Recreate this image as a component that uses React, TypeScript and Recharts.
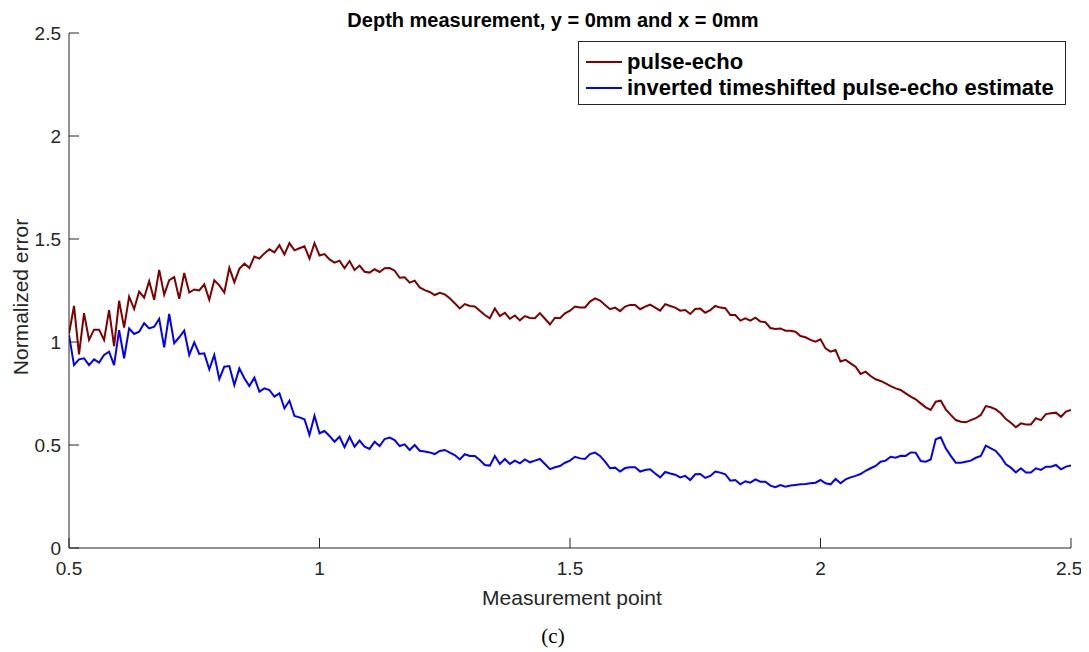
import { LineChart, Line, XAxis, YAxis } from 'recharts'

// measurement points run from 0.5 to 2.5 in steps of 0.01
const X_START = 0.5
const X_STEP = 0.01

const X_TICKS = [0.5, 1, 1.5, 2, 2.5]
const Y_TICKS = [0, 0.5, 1, 1.5, 2, 2.5]

const PULSE_ECHO = [
  1.04, 1.175, 0.94, 1.14, 1.01, 1.06, 1.06, 1.01, 1.155, 0.98,
  1.2, 1.07, 1.22, 1.16, 1.245, 1.215, 1.295, 1.205, 1.35, 1.23,
  1.3, 1.315, 1.21, 1.335, 1.24, 1.255, 1.25, 1.28, 1.205, 1.3,
  1.275, 1.24, 1.36, 1.29, 1.355, 1.38, 1.36, 1.415, 1.405, 1.43,
  1.45, 1.435, 1.47, 1.425, 1.48, 1.445, 1.455, 1.465, 1.405, 1.48,
  1.42, 1.427, 1.401, 1.385, 1.395, 1.358, 1.393, 1.35, 1.371, 1.341,
  1.337, 1.353, 1.34, 1.358, 1.359, 1.346, 1.312, 1.314, 1.288, 1.298,
  1.265, 1.252, 1.243, 1.228, 1.239, 1.231, 1.212, 1.188, 1.163, 1.184,
  1.175, 1.172, 1.152, 1.131, 1.115, 1.163, 1.126, 1.142, 1.113, 1.129,
  1.105, 1.126, 1.117, 1.115, 1.14, 1.113, 1.085, 1.118, 1.115, 1.139,
  1.152, 1.172, 1.168, 1.168, 1.196, 1.212, 1.201, 1.18, 1.159, 1.167,
  1.15, 1.172, 1.18, 1.18, 1.159, 1.172, 1.181, 1.167, 1.152, 1.184,
  1.175, 1.167, 1.152, 1.155, 1.136, 1.16, 1.162, 1.142, 1.155, 1.175,
  1.167, 1.164, 1.131, 1.131, 1.104, 1.115, 1.104, 1.118, 1.099, 1.096,
  1.068, 1.063, 1.066, 1.055, 1.055, 1.05, 1.029, 1.023, 1.01, 1.002,
  1.013, 0.969, 0.953, 0.961, 0.905, 0.913, 0.896, 0.88, 0.845, 0.856,
  0.835, 0.819, 0.811, 0.799, 0.786, 0.775, 0.767, 0.751, 0.735, 0.722,
  0.702, 0.683, 0.67, 0.71, 0.715, 0.673, 0.646, 0.621, 0.613, 0.61,
  0.621, 0.63, 0.646, 0.689, 0.683, 0.673, 0.654, 0.626, 0.608, 0.586,
  0.605, 0.6, 0.6, 0.63, 0.621, 0.65, 0.654, 0.657, 0.637, 0.662,
  0.67,
]

const INVERTED_ESTIMATE = [
  1.034, 0.888, 0.916, 0.921, 0.888, 0.916, 0.9, 0.937, 0.953, 0.888,
  1.058, 0.921, 1.066, 1.039, 1.05, 1.091, 1.066, 1.074, 1.112, 0.974,
  1.136, 0.994, 1.023, 1.055, 0.937, 0.998, 0.942, 0.945, 0.867, 0.937,
  0.82, 0.88, 0.883, 0.791, 0.872, 0.824, 0.786, 0.827, 0.759, 0.775,
  0.767, 0.735, 0.751, 0.678, 0.715, 0.641, 0.634, 0.625, 0.549, 0.642,
  0.557, 0.568, 0.544, 0.516, 0.54, 0.489, 0.54, 0.492, 0.521, 0.492,
  0.481, 0.516, 0.495, 0.529, 0.536, 0.524, 0.495, 0.503, 0.476, 0.5,
  0.472, 0.468, 0.464, 0.456, 0.471, 0.476, 0.463, 0.451, 0.43, 0.455,
  0.447, 0.447, 0.427, 0.403, 0.4, 0.447, 0.408, 0.432, 0.408, 0.424,
  0.411, 0.43, 0.416, 0.424, 0.432, 0.408, 0.383, 0.392, 0.398, 0.414,
  0.424, 0.443, 0.435, 0.432, 0.456, 0.463, 0.447, 0.419, 0.387, 0.39,
  0.371, 0.388, 0.392, 0.392, 0.371, 0.379, 0.382, 0.362, 0.343, 0.369,
  0.362, 0.356, 0.343, 0.35, 0.33, 0.358, 0.359, 0.34, 0.35, 0.371,
  0.366, 0.358, 0.327, 0.33, 0.309, 0.324, 0.317, 0.333, 0.322, 0.322,
  0.303, 0.295, 0.306, 0.298, 0.303, 0.306, 0.309, 0.311, 0.314, 0.317,
  0.33, 0.314, 0.309, 0.335, 0.314, 0.333, 0.343, 0.35, 0.359, 0.375,
  0.387, 0.398, 0.419, 0.424, 0.443, 0.438, 0.448, 0.447, 0.464, 0.463,
  0.422, 0.419, 0.43, 0.528, 0.537, 0.484, 0.447, 0.414, 0.414, 0.419,
  0.424, 0.438, 0.447, 0.497, 0.484, 0.471, 0.443, 0.406, 0.39, 0.367,
  0.387, 0.367, 0.366, 0.387, 0.379, 0.395, 0.395, 0.403, 0.382, 0.395,
  0.4,
]

const data = PULSE_ECHO.map((v, i) => ({
  x: Math.round((X_START + i * X_STEP) * 100) / 100,
  pulseEcho: v,
  inverted: INVERTED_ESTIMATE[i],
}))

const SERIES = [
  { key: 'pulseEcho', name: 'pulse-echo', color: '#800000' },
  { key: 'inverted', name: 'inverted timeshifted pulse-echo estimate', color: '#0000ff' },
]

const AXIS_COLOR = '#262626'
const FONT = '"Liberation Sans", Arial, Helvetica, sans-serif'

function LegendBox() {
  return (
    <div
      style={{
        position: 'absolute',
        left: 570,
        top: 33,
        width: 488,
        height: 64,
        border: '1px solid #262626',
        background: '#fff',
        boxSizing: 'border-box',
        paddingTop: 7,
        fontWeight: 'bold',
        fontSize: 22,
        color: '#000',
      }}
    >
      {SERIES.map((s) => (
        <div key={s.key} style={{ display: 'flex', alignItems: 'center', height: 26 }}>
          <div style={{ width: 36, height: 2, background: s.color, marginLeft: 7, marginRight: 5 }} />
          <span>{s.name}</span>
        </div>
      ))}
    </div>
  )
}

export default function App() {
  return (
    <div style={{ position: 'relative', width: 1073, height: 644, fontFamily: FONT, background: '#fff' }}>
      <div
        style={{
          position: 'absolute',
          left: 545,
          top: 0,
          transform: 'translateX(-50%)',
          whiteSpace: 'nowrap',
          fontWeight: 'bold',
          fontSize: 20,
          lineHeight: '24px',
          color: '#000',
        }}
      >
        Depth measurement, y = 0mm and x = 0mm
      </div>

      <LineChart width={1073} height={636} data={data} margin={{ top: 25, right: 10, left: 0, bottom: 56 }}>
        <XAxis
          dataKey="x"
          type="number"
          domain={[0.5, 2.5]}
          ticks={X_TICKS}
          allowDataOverflow
          height={40}
          stroke={AXIS_COLOR}
          tickSize={-10}
          tickMargin={24}
          tick={{ fill: AXIS_COLOR, fontSize: 19, fontFamily: FONT }}
        />
        <YAxis
          type="number"
          domain={[0, 2.5]}
          ticks={Y_TICKS}
          allowDataOverflow
          width={61}
          stroke={AXIS_COLOR}
          tickSize={-10}
          tickMargin={18}
          tick={{ fill: AXIS_COLOR, fontSize: 19, fontFamily: FONT }}
        />
        {SERIES.map((s) => (
          <Line
            key={s.key}
            type="linear"
            dataKey={s.key}
            name={s.name}
            stroke={s.color}
            strokeWidth={2}
            dot={false}
            isAnimationActive={false}
          />
        ))}
      </LineChart>

      <LegendBox />

      <div
        style={{
          position: 'absolute',
          left: 13,
          top: 289,
          transform: 'translate(-50%, -50%) rotate(-90deg)',
          whiteSpace: 'nowrap',
          fontSize: 21,
          color: AXIS_COLOR,
        }}
      >
        Normalized error
      </div>
      <div
        style={{
          position: 'absolute',
          left: 564,
          top: 578,
          transform: 'translateX(-50%)',
          whiteSpace: 'nowrap',
          fontSize: 21,
          lineHeight: '24px',
          color: AXIS_COLOR,
        }}
      >
        Measurement point
      </div>
      <div
        style={{
          position: 'absolute',
          left: 545,
          top: 615,
          transform: 'translateX(-50%)',
          fontFamily: '"Liberation Serif", "DejaVu Serif", serif',
          fontSize: 21,
          lineHeight: '26px',
          color: '#000',
        }}
      >
        (c)
      </div>
    </div>
  )
}
